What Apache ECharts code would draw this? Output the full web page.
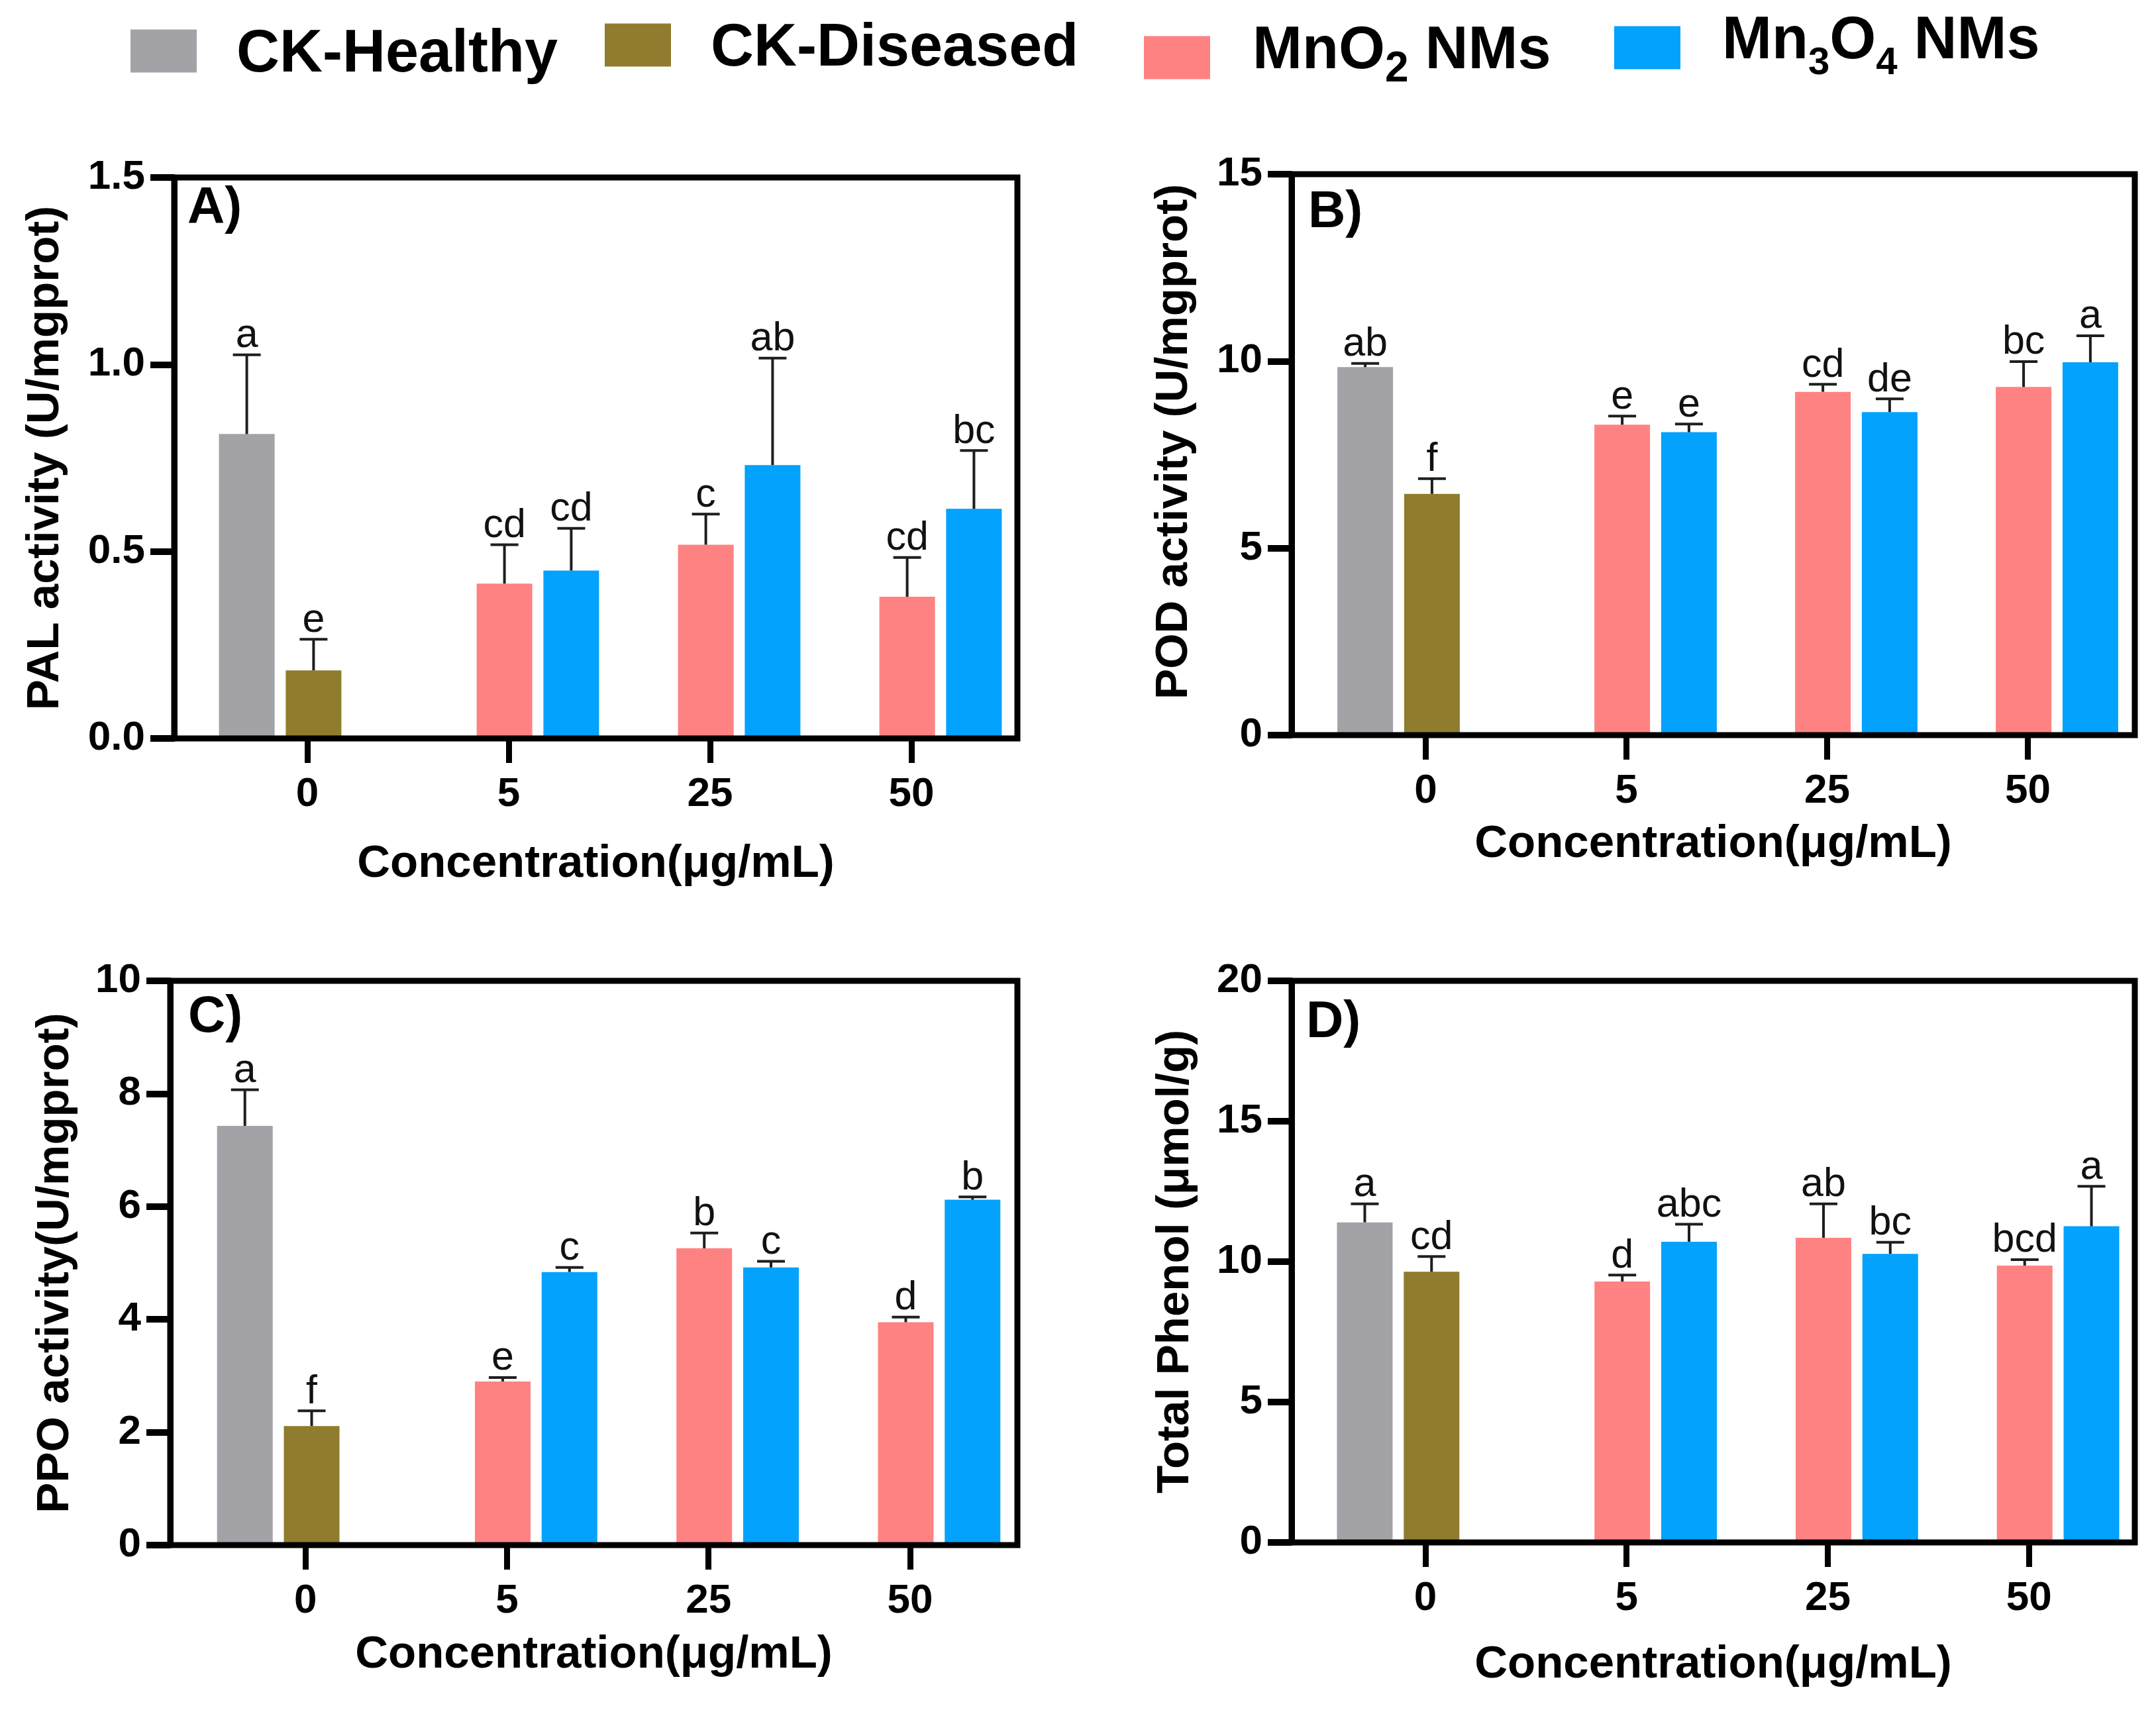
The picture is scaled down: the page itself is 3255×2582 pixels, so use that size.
<!DOCTYPE html>
<html>
<head>
<meta charset="utf-8">
<title>PAL / POD / PPO / Total phenol</title>
<script src="https://cdn.jsdelivr.net/npm/echarts@6.0.0/dist/echarts.min.js"></script>
<style>
  html, body { margin: 0; padding: 0; background: #fff; }
  #chart { width: 3255px; height: 2582px; }
</style>
</head>
<body>
<div id="chart"></div>
<script>
var FONT = "'Liberation Sans', Arial, Helvetica, sans-serif";

var concLabels = ['0', '5', '25', '50'];
var groupNames = ['CK-Healthy', 'CK-Diseased', 'MnO2 NMs', 'Mn3O4 NMs'];
var groupColors = ['#a3a2a7', '#8f7c2e', '#ff8282', '#03a2fc'];

// rows follow groupNames, columns follow concLabels
var palMean = [[0.814, null, null, null], [0.182, null, null, null], [null, 0.414, 0.518, 0.379], [null, 0.449, 0.731, 0.614]];
var palErr = [[0.212, null, null, null], [0.083, null, null, null], [null, 0.104, 0.082, 0.105], [null, 0.113, 0.286, 0.156]];
var palLetters = [['a', '', '', ''], ['e', '', '', ''], ['', 'cd', 'c', 'cd'], ['', 'cd', 'ab', 'bc']];

var podMean = [[9.84, null, null, null], [6.45, null, null, null], [null, 8.30, 9.18, 9.31], [null, 8.10, 8.64, 9.97]];
var podErr = [[0.10, null, null, null], [0.41, null, null, null], [null, 0.23, 0.20, 0.68], [null, 0.22, 0.35, 0.71]];
var podLetters = [['ab', '', '', ''], ['f', '', '', ''], ['', 'e', 'cd', 'bc'], ['', 'e', 'de', 'a']];

var ppoMean = [[7.43, null, null, null], [2.11, null, null, null], [null, 2.90, 5.26, 3.95], [null, 4.84, 4.92, 6.12]];
var ppoErr = [[0.64, null, null, null], [0.27, null, null, null], [null, 0.07, 0.27, 0.09], [null, 0.08, 0.11, 0.05]];
var ppoLetters = [['a', '', '', ''], ['f', '', '', ''], ['', 'e', 'b', 'd'], ['', 'c', 'c', 'b']];

var phenolMean = [[11.40, null, null, null], [9.64, null, null, null], [null, 9.29, 10.85, 9.86], [null, 10.71, 10.28, 11.26]];
var phenolErr = [[0.66, null, null, null], [0.54, null, null, null], [null, 0.23, 1.21, 0.21], [null, 0.62, 0.41, 1.42]];
var phenolLetters = [['a', '', '', ''], ['cd', '', '', ''], ['', 'd', 'ab', 'bcd'], ['', 'abc', 'bc', 'a']];

var BAR_W = 84;
var BAR_GAP = 0.2;
var CAP_W = 42;
// the two control bars sit a little left of the tick, the two NM bars a little right
var PAIRS = [{groups: [0, 1], shift: -41}, {groups: [2, 3], shift: 44}];

var panels = [
    {tag: 'A)', mean: palMean, err: palErr, letters: palLetters, yName: 'PAL activity (U/mgprot)',
     yMax: 1.5, yStep: 0.5, digits: 1, box: [263, 268, 1273, 847], plot: [312, 1216],
     tagPos: [283, 276], yNameGap: 160, yNamePad: 0, xNameGap: 155},
    {tag: 'B)', mean: podMean, err: podErr, letters: podLetters, yName: 'POD activity (U/mgprot)',
     yMax: 15, yStep: 5, digits: 0, box: [1950, 263, 1273, 847], plot: [2001, 1212],
     tagPos: [1975, 282], yNameGap: 143, yNamePad: 39, xNameGap: 130},
    {tag: 'C)', mean: ppoMean, err: ppoErr, letters: ppoLetters, yName: 'PPO activity(U/mgprot)',
     yMax: 10, yStep: 2, digits: 0, box: [257, 1481, 1279, 852], plot: [309, 1217],
     tagPos: [284, 1497], yNameGap: 139, yNamePad: 0, xNameGap: 131},
    {tag: 'D)', mean: phenolMean, err: phenolErr, letters: phenolLetters, yName: 'Total Phenol (μmol/g)',
     yMax: 20, yStep: 5, digits: 0, box: [1950, 1481, 1273, 848], plot: [2000, 1215],
     tagPos: [1972, 1505], yNameGap: 141, yNamePad: 0, xNameGap: 150}
];

var legendText = ['CK-Healthy', 'CK-Diseased', '{n|MnO}{s|2}{n| NMs}', '{n|Mn}{t|3}{n|O}{t|4}{n| NMs}'];
// left, top, text padding
var legendSpots = [
    [197, 38, [12, 0, 0, 55]],
    [913, 29, [12, 0, 0, 55]],
    [1727, 33, [0, 0, 18, 59]],
    [2437, 18, [0, 0, 18, 58]]
];

function errorRenderer(letters) {
    return function (params, api) {
        var c = api.value(0), v = api.value(1), e = api.value(2), slot = api.value(3);
        var base = api.coord([c, v]);
        var top = api.coord([c, v + e]);
        var x = base[0] + slot * BAR_W * (1 + BAR_GAP);
        var line = {stroke: '#1e1e1e', lineWidth: 4};
        return {
            type: 'group',
            children: [
                {type: 'line', shape: {x1: x, y1: base[1], x2: x, y2: top[1]}, style: line},
                {type: 'line', shape: {x1: x - CAP_W / 2, y1: top[1], x2: x + CAP_W / 2, y2: top[1]}, style: line},
                {type: 'text', x: x, y: top[1] + 2, style: {
                    text: letters[params.dataIndex], fontSize: 61, fontFamily: FONT,
                    fill: '#111', align: 'center', verticalAlign: 'bottom'
                }}
            ]
        };
    };
}

var option = {
    animation: false,
    backgroundColor: '#fff',
    textStyle: {fontFamily: FONT},
    title: [],
    legend: [],
    grid: [],
    xAxis: [],
    yAxis: [],
    series: []
};

var subRich = {
    n: {fontSize: 90, fontWeight: 'bold', fontFamily: FONT, color: '#000', lineHeight: 90, verticalAlign: 'top'},
    s: {fontSize: 64, fontWeight: 'bold', fontFamily: FONT, color: '#000', lineHeight: 64, padding: [40, 0, 0, 0], verticalAlign: 'top'},
    t: {fontSize: 58, fontWeight: 'bold', fontFamily: FONT, color: '#000', lineHeight: 58, padding: [49, 0, 0, 0], verticalAlign: 'top'}
};

groupNames.forEach(function (name, g) {
    option.legend.push({
        data: [name],
        left: legendSpots[g][0],
        top: legendSpots[g][1],
        padding: 0,
        icon: 'rect',
        itemWidth: 100,
        itemHeight: 65,
        selectedMode: false,
        itemStyle: {borderWidth: 0},
        formatter: function () { return legendText[g]; },
        textStyle: {
            fontSize: 90, fontWeight: 'bold', fontFamily: FONT, color: '#000',
            padding: legendSpots[g][2],
            rich: subRich
        }
    });
});

panels.forEach(function (p, i) {
    var boxIdx = 4 * i, tickIdx = 4 * i + 1;

    option.title.push({
        text: p.tag, left: p.tagPos[0], top: p.tagPos[1], padding: 0,
        textStyle: {fontSize: 78, fontWeight: 'bold', fontFamily: FONT, color: '#000'}
    });

    // frame with the y axis and the x title
    option.grid.push({
        left: p.box[0], top: p.box[1], width: p.box[2], height: p.box[3],
        show: true, borderColor: '#000', borderWidth: 9, backgroundColor: 'transparent',
        z: 10, outerBoundsMode: 'none'
    });
    option.xAxis.push({
        gridIndex: boxIdx, type: 'value', min: 0, max: 1,
        axisLine: {show: false}, axisTick: {show: false}, axisLabel: {show: false}, splitLine: {show: false},
        name: 'Concentration(μg/mL)', nameLocation: 'middle', nameGap: p.xNameGap,
        nameTextStyle: {fontSize: 69, fontWeight: 'bold', fontFamily: FONT, color: '#000'}
    });
    option.yAxis.push({
        gridIndex: boxIdx, type: 'value', min: 0, max: p.yMax, interval: p.yStep,
        axisLine: {show: true, lineStyle: {color: '#000', width: 9}},
        axisTick: {show: true, length: 36, lineStyle: {color: '#000', width: 10}},
        axisLabel: {
            margin: 44, fontSize: 62, fontWeight: 'bold', fontFamily: FONT, color: '#000',
            formatter: function (v) { return v.toFixed(p.digits); }
        },
        splitLine: {show: false},
        name: p.yName, nameLocation: 'middle', nameGap: p.yNameGap,
        nameTextStyle: {fontSize: 69, fontWeight: 'bold', fontFamily: FONT, color: '#000',
                        padding: [0, 0, 0, p.yNamePad]}
    });

    // category ticks and labels
    option.grid.push({
        left: p.plot[0], top: p.box[1], width: p.plot[1], height: p.box[3],
        outerBoundsMode: 'none'
    });
    option.xAxis.push({
        gridIndex: tickIdx, type: 'category', data: concLabels,
        axisLine: {show: false},
        axisTick: {show: true, alignWithLabel: true, length: 37, lineStyle: {color: '#000', width: 9}},
        axisLabel: {margin: 54, fontSize: 62, fontWeight: 'bold', fontFamily: FONT, color: '#000'},
        splitLine: {show: false}
    });
    option.yAxis.push({gridIndex: tickIdx, type: 'value', min: 0, max: p.yMax, show: false});

    // bars: one grid for the controls, one for the nanomaterials
    PAIRS.forEach(function (pair, k) {
        var idx = 4 * i + 2 + k;
        option.grid.push({
            left: p.plot[0] + pair.shift, top: p.box[1], width: p.plot[1], height: p.box[3],
            outerBoundsMode: 'none'
        });
        option.xAxis.push({gridIndex: idx, type: 'category', data: concLabels, show: false});
        option.yAxis.push({gridIndex: idx, type: 'value', min: 0, max: p.yMax, show: false});

        var items = [], letters = [];
        pair.groups.forEach(function (g, slot) {
            option.series.push({
                type: 'bar', name: groupNames[g],
                xAxisIndex: idx, yAxisIndex: idx,
                data: p.mean[g],
                barWidth: BAR_W, barGap: (BAR_GAP * 100) + '%',
                itemStyle: {color: groupColors[g]}
            });
            for (var c = 0; c < concLabels.length; c++) {
                if (p.mean[g][c] != null) {
                    items.push([c, p.mean[g][c], p.err[g][c], slot - 0.5]);
                    letters.push(p.letters[g][c]);
                }
            }
        });
        option.series.push({
            type: 'custom', name: 'err' + i + k,
            xAxisIndex: idx, yAxisIndex: idx,
            encode: {x: 0, y: 1},
            data: items, z: 5, silent: true, clip: false,
            renderItem: errorRenderer(letters)
        });
    });
});

var myChart = echarts.init(document.getElementById('chart'), null, {renderer: 'canvas'});
myChart.setOption(option);
</script>
</body>
</html>
